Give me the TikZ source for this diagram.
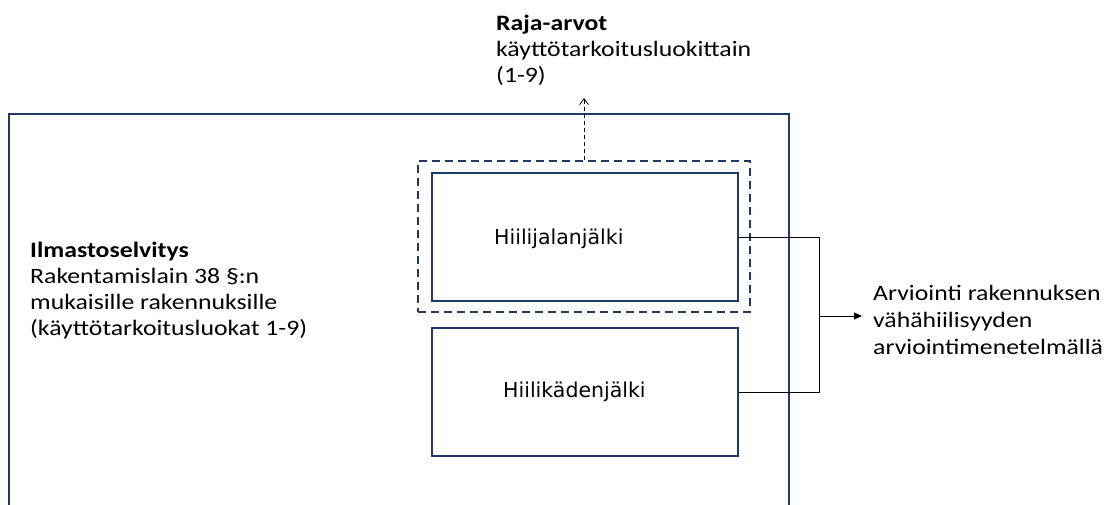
\documentclass[tikz,border=0pt]{standalone}
\usepackage{fontspec}
\setmainfont{Carlito}[FakeStretch=1.17]
\newfontfamily\boxfont{DejaVu Sans}
\usetikzlibrary{arrows.meta}
\definecolor{navy}{HTML}{1F3864}
\begin{document}
\begin{tikzpicture}[x=1pt,y=-1pt,
  frame/.style={draw=navy,line width=1.5pt},
  solidbox/.style={draw=navy,line width=1.8pt,inner sep=0pt,minimum width=306pt,minimum height=128pt},
  dashbox/.style={draw=navy,line width=1.6pt,dash pattern=on 8pt off 5pt,inner sep=0pt,minimum width=332pt,minimum height=151pt},
  conn/.style={draw=black,line width=0.9pt},
  txt/.style={inner sep=0pt,align=left,anchor=base west,font=\fontsize{22}{26}\selectfont},
  boxtxt/.style={inner sep=0pt,anchor=base west,font=\boxfont\fontsize{20.5}{24}\selectfont}
]
\useasboundingbox (0,0) rectangle (1106,505);
% outer frame (open at the bottom)
\draw[frame] (9,505) -- (9,114) -- (789,114) -- (789,505);

\node[dashbox] (dbox) at (584,236.5) {};
\node[solidbox] (b1) at (585,237) {};
\node[solidbox] (b2) at (585,392) {};
\node[boxtxt] (t1) at (494,245) {Hiilijalanjälki};
\node[boxtxt] (t2) at (503,397) {Hiilikädenjälki};

% base anchor of a multi-line node = baseline of its last line
\node[txt] (ilm) at (30,335) {\textbf{Ilmastoselvitys}\\Rakentamislain 38 §:n\\mukaisille rakennuksille\\(käyttötarkoitusluokat 1-9)};
\node[txt] (raja) at (496,83) {\textbf{Raja-arvot}\\käyttötarkoitusluokittain\\(1-9)};
\node[txt,font=\fontsize{22}{27}\selectfont] (arv) at (873,354) {Arviointi rakennuksen\\vähähiilisyyden\\arviointimenetelmällä};

\coordinate (rtip) at (584,98);
\coordinate (m) at (819,316);
\coordinate (atip) at (862,316);

\draw[conn,line width=0.8pt,dash pattern=on 4pt off 3pt,-{Straight Barb[length=6pt,width=9pt]}] (dbox.north) -- (rtip);
\draw[conn] (b1.east) -| (m);
\draw[conn] (b2.east) -| (m);
\draw[conn,-{Triangle[length=8pt,width=7pt]}] (m) -- (atip);
\end{tikzpicture}
\end{document}
